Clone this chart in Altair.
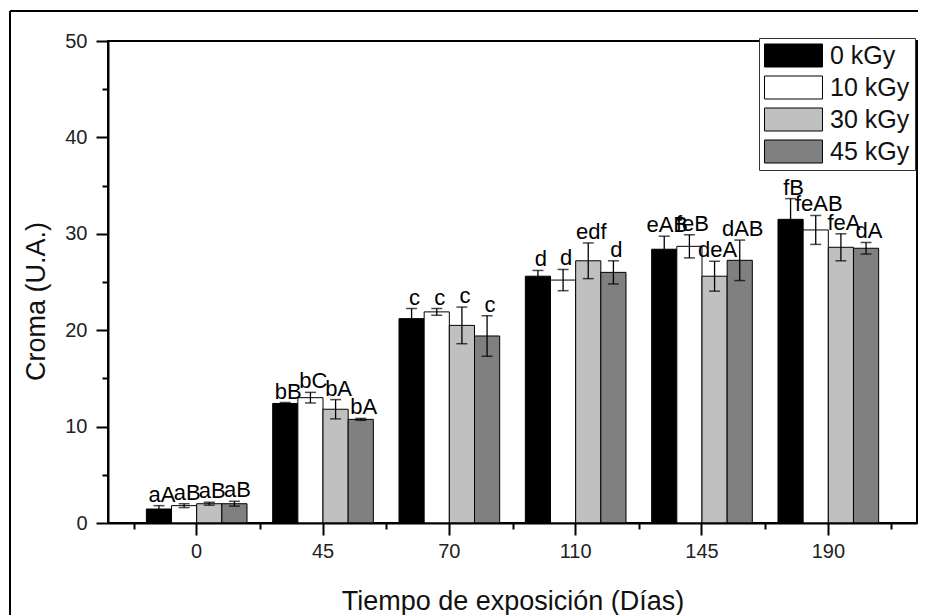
import altair as alt
import pandas as pd

# Exposure times (days) and irradiation doses
days = ["0", "45", "70", "110", "145", "190"]
doses = ["0 kGy", "10 kGy", "30 kGy", "45 kGy"]
dose_fills = ["#000000", "#ffffff", "#c0c0c0", "#808080"]

# Mean chroma per dose, one value per exposure time
croma_0kGy = [1.45, 12.4, 21.2, 25.6, 28.4, 31.5]
croma_10kGy = [1.8, 13.0, 21.9, 25.2, 28.7, 30.4]
croma_30kGy = [2.0, 11.8, 20.5, 27.2, 25.6, 28.6]
croma_45kGy = [2.0, 10.75, 19.4, 26.0, 27.25, 28.5]

# Standard deviations
err_0kGy = [0.35, 0.1, 1.05, 0.6, 1.35, 2.15]
err_10kGy = [0.2, 0.55, 0.35, 1.1, 1.2, 1.5]
err_30kGy = [0.15, 1.0, 1.9, 1.85, 1.55, 1.4]
err_45kGy = [0.25, 0.1, 2.1, 1.2, 2.1, 0.6]

# Significance letters
letters_0kGy = ["aA", "bB", "c", "d", "eAB", "fB"]
letters_10kGy = ["aB", "bC", "c", "d", "feB", "feAB"]
letters_30kGy = ["aB", "bA", "c", "edf", "deA", "feA"]
letters_45kGy = ["aB", "bA", "c", "d", "dAB", "dA"]

series = [
    ("0 kGy", croma_0kGy, err_0kGy, letters_0kGy),
    ("10 kGy", croma_10kGy, err_10kGy, letters_10kGy),
    ("30 kGy", croma_30kGy, err_30kGy, letters_30kGy),
    ("45 kGy", croma_45kGy, err_45kGy, letters_45kGy),
]

rows = []
for dose, vals, errs, lets in series:
    for day, v, e, l in zip(days, vals, errs, lets):
        rows.append({"dia": day, "dosis": dose, "croma": v,
                     "lo": v - e, "hi": v + e, "letra": l})
df = pd.DataFrame(rows)

FONT = "Liberation Sans"

x_major = alt.Axis(orient="bottom", title="Tiempo de exposición (Días)", labelAngle=0,
                   tickSize=12, tickWidth=2, tickColor="black", domainColor="black",
                   domainWidth=2, labelFontSize=20, labelPadding=6, labelColor="#222",
                   titleFontSize=27, titleFontWeight="normal", titleColor="#111",
                   titlePadding=27, grid=False, zindex=1)
x_minor = alt.Axis(orient="bottom", tickBand="extent", tickSize=6, tickWidth=2,
                   tickColor="black", labels=False, title=None, domain=False,
                   grid=False, zindex=1)
y_major = alt.Axis(orient="left", values=[0, 10, 20, 30, 40, 50], title="Croma (U.A.)",
                   tickSize=12, tickWidth=2, tickColor="black", domainColor="black",
                   domainWidth=2, labelFontSize=20, labelPadding=9, labelColor="#222",
                   titleFontSize=27, titleFontWeight="normal", titleColor="#111",
                   titleX=-58, titleY=260, grid=False, zindex=1)
y_minor = alt.Axis(orient="left", values=[5, 15, 25, 35, 45], tickSize=6, tickWidth=2,
                   tickColor="black", labels=False, title=None, domain=False,
                   grid=False, zindex=1)

x_scale = alt.Scale(domain=days, paddingInner=0, paddingOuter=0.202)
off_scale = alt.Scale(domain=doses, paddingInner=0, paddingOuter=0.51)
y_scale = alt.Scale(domain=[0, 50], nice=False)

legend = alt.Legend(title=None, orient="none", legendX=651, legendY=-3,
                    fillColor="white", strokeColor="#333", padding=5,
                    symbolType="M-2.52,-1H2.52V1H-2.52Z", symbolSize=529,
                    symbolStrokeColor="black", symbolStrokeWidth=1,
                    symbolOffset=17, labelOffset=24, labelFontSize=25,
                    labelFont=FONT, labelColor="#111", rowPadding=5)

base = alt.Chart(df)

bars = base.mark_bar(stroke="black", strokeWidth=1).encode(
    x=alt.X("dia:N", sort=days, scale=x_scale, axis=x_major),
    xOffset=alt.XOffset("dosis:N", sort=doses, scale=off_scale),
    y=alt.Y("croma:Q", scale=y_scale, axis=y_major),
    fill=alt.Fill("dosis:N", sort=doses,
                  scale=alt.Scale(domain=doses, range=dose_fills), legend=legend),
)

whiskers = base.mark_rule(color="black", strokeWidth=1.3).encode(
    x=alt.X("dia:N", sort=days, scale=x_scale, axis=x_minor),
    xOffset=alt.XOffset("dosis:N", sort=doses, scale=off_scale),
    y=alt.Y("lo:Q", scale=y_scale, axis=y_minor),
    y2="hi:Q",
)

cap_hi = base.mark_tick(color="black", size=11, thickness=1.5).encode(
    x=alt.X("dia:N", sort=days, scale=x_scale, axis=None),
    xOffset=alt.XOffset("dosis:N", sort=doses, scale=off_scale),
    y=alt.Y("hi:Q", scale=y_scale, axis=None),
)
cap_lo = base.mark_tick(color="black", size=11, thickness=1.5).encode(
    x=alt.X("dia:N", sort=days, scale=x_scale, axis=None),
    xOffset=alt.XOffset("dosis:N", sort=doses, scale=off_scale),
    y=alt.Y("lo:Q", scale=y_scale, axis=None),
)

labels = base.mark_text(baseline="alphabetic", dy=-4, dx=3, fontSize=22, font=FONT,
                        color="black").encode(
    x=alt.X("dia:N", sort=days, scale=x_scale, axis=None),
    xOffset=alt.XOffset("dosis:N", sort=doses, scale=off_scale),
    y=alt.Y("hi:Q", scale=y_scale, axis=None),
    text="letra:N",
)

# Page frame (left and top edges)
frame_src = alt.Chart(pd.DataFrame({"k": [0]}))
frame_left = frame_src.mark_rule(color="black", strokeWidth=2).encode(
    x=alt.value(-98), y=alt.value(-30), y2=alt.value(600))
frame_top = frame_src.mark_rule(color="black", strokeWidth=2).encode(
    x=alt.value(-98), x2=alt.value(810), y=alt.value(-30))

chart = alt.layer(
    bars, whiskers, cap_hi, cap_lo, labels, frame_left, frame_top
).resolve_axis(
    x="independent", y="independent"
).properties(
    width=809, height=482,
    autosize=alt.AutoSizeParams(type="none"),
    padding={"left": 108, "top": 41, "right": 8, "bottom": 92},
    background="white",
).configure(
    font=FONT,
).configure_view(
    stroke="black", strokeWidth=2,
).configure_legend(
    strokeWidth=1,
)

chart.save("out.html", embed_options={"renderer": "svg", "actions": False})
